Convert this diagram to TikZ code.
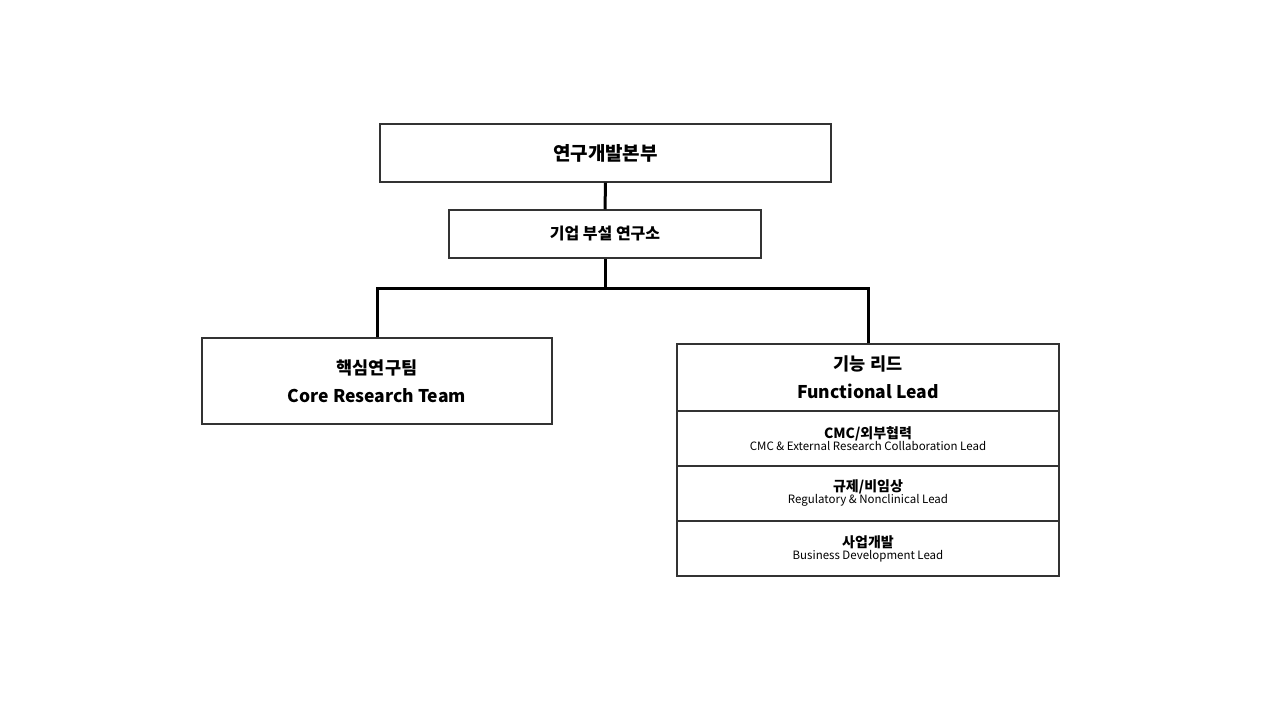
\documentclass[tikz,border=0pt]{standalone}
\usepackage{fontspec}
\setmainfont{Noto Sans CJK KR}
\begin{document}
\begin{tikzpicture}[x=1pt,y=-1pt,
  box/.style={draw=black!80,line width=1.3pt,fill=white},
  conn/.style={line width=3pt,black},
  t/.style={inner sep=0pt,align=center}]
\useasboundingbox (0,0) rectangle (1280,720);
\node[box,minimum width=451pt,minimum height=58pt] (top) at (605.5,153) {};
\node[t,font=\fontsize{19}{22}\selectfont\bfseries] (topt) at (top.center) {연구개발본부};
\node[box,minimum width=312pt,minimum height=48pt] (lab) at (605,234) {};
\node[t,font=\fontsize{16}{19}\selectfont\bfseries] (labt) at (lab.center) {기업 부설 연구소};
\node[box,minimum width=350pt,minimum height=86pt] (core) at (377,381) {};
\node[t,font=\fontsize{17.5}{28}\selectfont\bfseries] (coret) at (core.center) {핵심연구팀\\Core Research Team};
\node[box,minimum width=382pt,minimum height=67pt] (fl) at (868,377.5) {};
\node[t,font=\fontsize{17.5}{28}\selectfont\bfseries] (flt) at (fl.center) {기능 리드\\Functional Lead};
\node[box,minimum width=382pt,minimum height=55pt] (cmc) at (868,438.5) {};
\node[t,align=center] (cmct) at (cmc.center) {{\fontsize{14}{20}\selectfont\bfseries CMC/외부협력}\\{\fontsize{11.5}{15}\selectfont CMC \& External Research Collaboration Lead}};
\node[box,minimum width=382pt,minimum height=55pt] (reg) at (868,493.5) {};
\node[t,align=center] (regt) at (reg.center) {{\fontsize{14}{20}\selectfont\bfseries 규제/비임상}\\{\fontsize{11.5}{15}\selectfont Regulatory \& Nonclinical Lead}};
\node[box,minimum width=382pt,minimum height=55pt] (bd) at (868,548.5) {};
\node[t,align=center] (bdt) at (bd.center) {{\fontsize{14}{20}\selectfont\bfseries 사업개발}\\{\fontsize{11.5}{15}\selectfont Business Development Lead}};
\coordinate (j) at (605,288);
\draw[conn] (top.south) -- (lab.north);
\draw[conn] (lab.south) -- (j);
\draw[conn] (core.north) |- (j);
\draw[conn] (fl.north) |- (j);
\end{tikzpicture}
\end{document}
